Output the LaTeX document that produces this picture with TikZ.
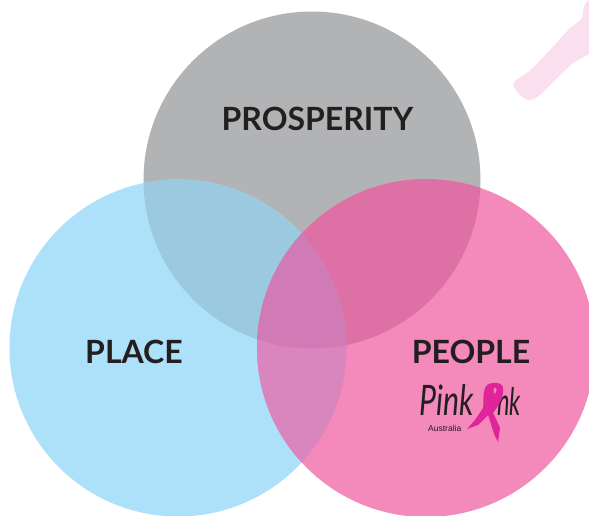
\documentclass[tikz,border=0pt]{standalone}
\usepackage{fontspec}
\setmainfont{Lato}
\newfontfamily\logosans{Liberation Sans}
\definecolor{cgray}{HTML}{B1B3B5}
\definecolor{cblue}{HTML}{ADE1FA}
\definecolor{cpink}{HTML}{F489BC}
\definecolor{cgb}{HTML}{9BCAE0}
\definecolor{cgp}{HTML}{DD71A6}
\definecolor{cbp}{HTML}{D985BE}
\definecolor{cgbp}{HTML}{D07AB6}
\definecolor{cpale}{HTML}{FADFEF}
\definecolor{cribbon}{HTML}{E0249A}
\definecolor{ctext}{HTML}{231F20}
\tikzset{
  biglabel/.style={text=ctext,inner sep=0pt,anchor=center,font=\bfseries\fontsize{32}{32}\selectfont},
  scriptlabel/.style={text=ctext,inner sep=0pt,anchor=base west}
}
\newcommand{\cG}{(312,180) circle (168.5)}
\newcommand{\cB}{(178,348) circle (168.5)}
\newcommand{\cP}{(426,348) circle (169)}
\begin{document}
\begin{tikzpicture}[x=1pt,y=-1pt]
\useasboundingbox (0,0) rectangle (589,515);
\fill[white] (0,0) rectangle (589,515);
% pale brush stroke
\fill[cpale] (589,0) .. controls (585,3) and (583,8) .. (583,12)
  .. controls (583,17) and (582,19) .. (578,22)
  -- (570,28) -- (550,50) -- (533,68)
  .. controls (528,73) and (520,77) .. (516,80)
  .. controls (512,83) and (513,87) .. (515,89)
  .. controls (519,95) and (525,100) .. (529,100)
  .. controls (534,100) and (538,97) .. (542,93)
  -- (557,78) -- (573,63) -- (589,54) -- cycle;
% circles
\fill[cgray] \cG;
\fill[cblue] \cB;
\fill[cpink] \cP;
\begin{scope}\clip \cG; \fill[cgb] \cB; \end{scope}
\begin{scope}\clip \cG; \fill[cgp] \cP; \end{scope}
\begin{scope}\clip \cB; \fill[cbp] \cP; \end{scope}
\begin{scope}\clip \cG; \clip \cB; \fill[cgbp] \cP; \end{scope}
% labels
\node[biglabel] (prosperity) at (317.5,119) {PROSPERITY};
\node[biglabel] (place) at (134,352) {PLACE};
\node[biglabel] (people) at (471,352) {PEOPLE};
% logo
\node[scriptlabel,font=\rmfamily\itshape\fontsize{42}{42}\selectfont,xscale=0.72] (pk1) at (419,415) {Pink};
\node[scriptlabel,font=\rmfamily\itshape\fontsize{38}{38}\selectfont,xscale=0.62] (pk2) at (497,415) {nk};
\node[text=ctext,inner sep=0pt,anchor=base west,font=\logosans\fontsize{8.5}{8.5}\selectfont] (aus) at (428,431.5) {Australia};
\fill[cribbon] (493,383) .. controls (498,382) and (503,384) .. (503,388)
  .. controls (504,396) and (500,403) .. (496,409)
  -- (493,413) -- (497,421) -- (500,428) -- (498,442)
  -- (494,434) -- (491,424) -- (488,415)
  -- (478,425) -- (467,429) -- (475,420) -- (483,408)
  .. controls (484,403) and (482,390) .. (487,385)
  .. controls (488,384) and (491,383) .. (493,383) -- cycle;
\fill[cpink] (494,388) .. controls (496,387) and (497,388) .. (496.5,390)
  .. controls (496,392) and (495.5,393) .. (494.5,394)
  .. controls (493.5,392) and (493,390) .. (494.5,388) -- cycle;
\end{tikzpicture}
\end{document}
